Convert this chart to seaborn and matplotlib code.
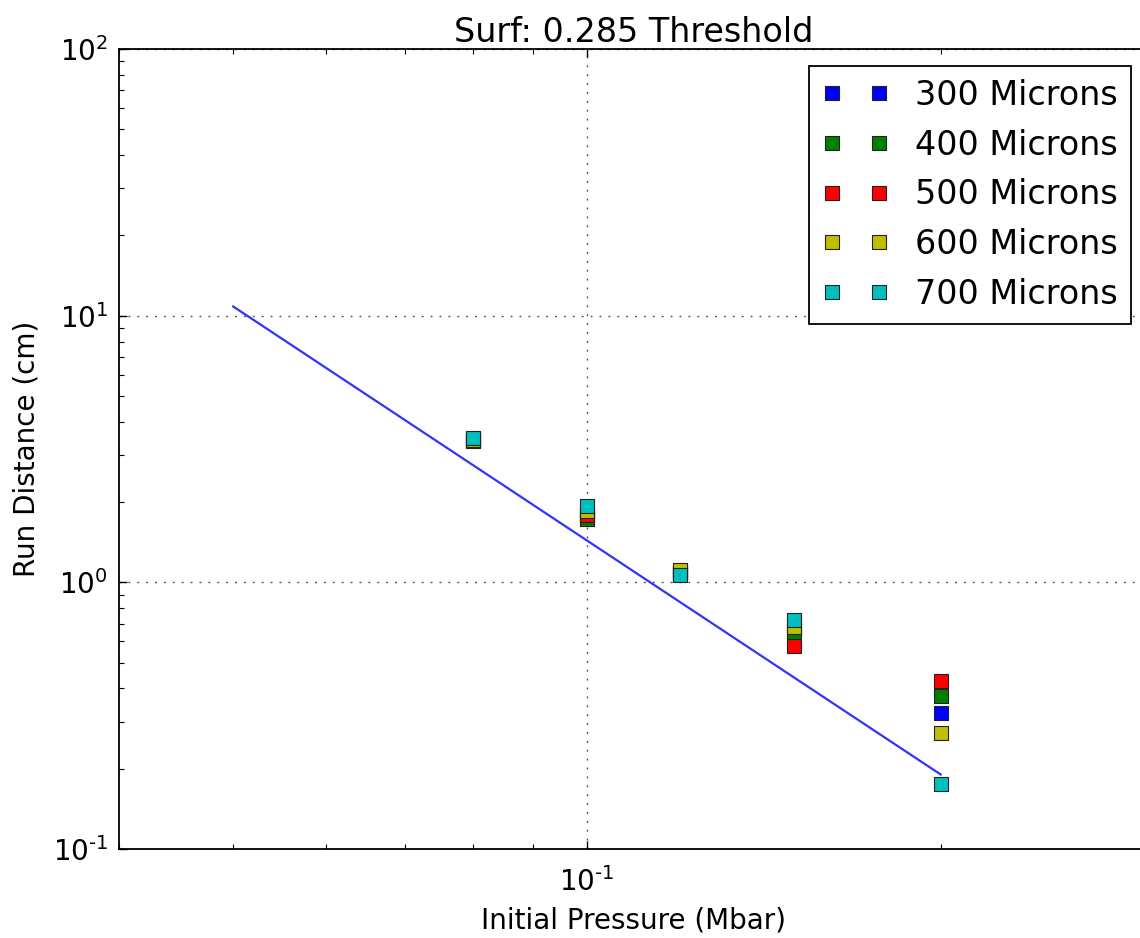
import matplotlib
matplotlib.use("Agg")
import numpy as np
import matplotlib.pyplot as plt
import seaborn as sns
from matplotlib.ticker import LogLocator, FuncFormatter, NullFormatter

# data
pressure = [0.08, 0.10, 0.12, 0.15, 0.20]          # Mbar
run_300 = [3.43, 1.75, 1.08, 0.66, 0.324]          # cm
run_400 = [3.43, 1.727, 1.08, 0.627, 0.374]
run_500 = [3.38, 1.788, 1.08, 0.575, 0.426]
run_600 = [3.43, 1.846, 1.112, 0.678, 0.273]
run_700 = [3.47, 1.93, 1.065, 0.725, 0.175]
labels = ["300 Microns", "400 Microns", "500 Microns", "600 Microns", "700 Microns"]
colors = ["#0000ff", "#008000", "#ff0000", "#bfbf00", "#00bfbf"]

fit_x = [0.05, 0.20]
fit_y = [10.84, 0.19]

sns.set_style("ticks")
plt.rcParams.update({
    "font.family": ["DejaVu Sans"],
    "lines.scale_dashes": False,
    "axes.unicode_minus": False,
    "text.color": "black",
    "axes.labelcolor": "black",
    "xtick.color": "black",
    "ytick.color": "black",
    "xtick.direction": "in",
    "ytick.direction": "in",
    "xtick.top": True,
    "ytick.right": True,
    "axes.edgecolor": "black",
    "axes.linewidth": 1.3,
})


def pow10(v, pos):
    # old-style label: 10 with a short hyphen in the exponent
    e = int(round(np.log10(v)))
    if e < 0:
        return r"$\mathdefault{10^{\text{-}%d}}$" % (-e)
    return r"$\mathdefault{10^{%d}}$" % e


fig = plt.figure(figsize=(11.4, 9.38), dpi=100)
ax = fig.add_axes([119 / 1140, 89 / 938, 1029 / 1140, 800 / 938])
ax.set_xscale("log")
ax.set_yscale("log")

sns.lineplot(x=fit_x, y=fit_y, color=(0.2, 0.2, 1.0), linewidth=1.6, ax=ax, zorder=2)

series = [run_300, run_400, run_500, run_600, run_700]
for vals, lab, col in zip(series, labels, colors):
    sns.scatterplot(x=pressure, y=vals, marker="s", s=100, color=col,
                    edgecolor="#222222", linewidth=0.8, label=lab, ax=ax, zorder=3)

ax.set_xlim(0.04, 0.3)
ax.set_ylim(0.1, 100)

ax.xaxis.set_major_locator(LogLocator(base=10))
ax.xaxis.set_major_formatter(FuncFormatter(pow10))
ax.yaxis.set_major_formatter(FuncFormatter(pow10))
ax.xaxis.set_minor_formatter(NullFormatter())
ax.yaxis.set_minor_formatter(NullFormatter())
ax.tick_params(which="major", length=6, width=1, labelsize=20, color="black")
ax.tick_params(axis="x", which="major", pad=13)
ax.tick_params(axis="y", which="major", pad=8)
ax.tick_params(which="minor", length=3.5, width=0.8, color="black")

ax.grid(True, which="major", color="#555555", linestyle=(0, (1.4, 5)), linewidth=1.0)

ax.set_title("Surf: 0.285 Threshold", fontsize=24, pad=4)
ax.set_xlabel("Initial Pressure (Mbar)", fontsize=20, labelpad=7)
ax.set_ylabel("Run Distance (cm)", fontsize=20, labelpad=9)

handles, labs = ax.get_legend_handles_labels()
leg = ax.legend(handles, labs, loc="upper right", fontsize=24, scatterpoints=2,
                scatteryoffsets=[0.5], frameon=True, fancybox=False,
                edgecolor="black", framealpha=1, borderaxespad=0.5)
leg.get_frame().set_linewidth(1.3)

fig.savefig("out.png", dpi=100)
